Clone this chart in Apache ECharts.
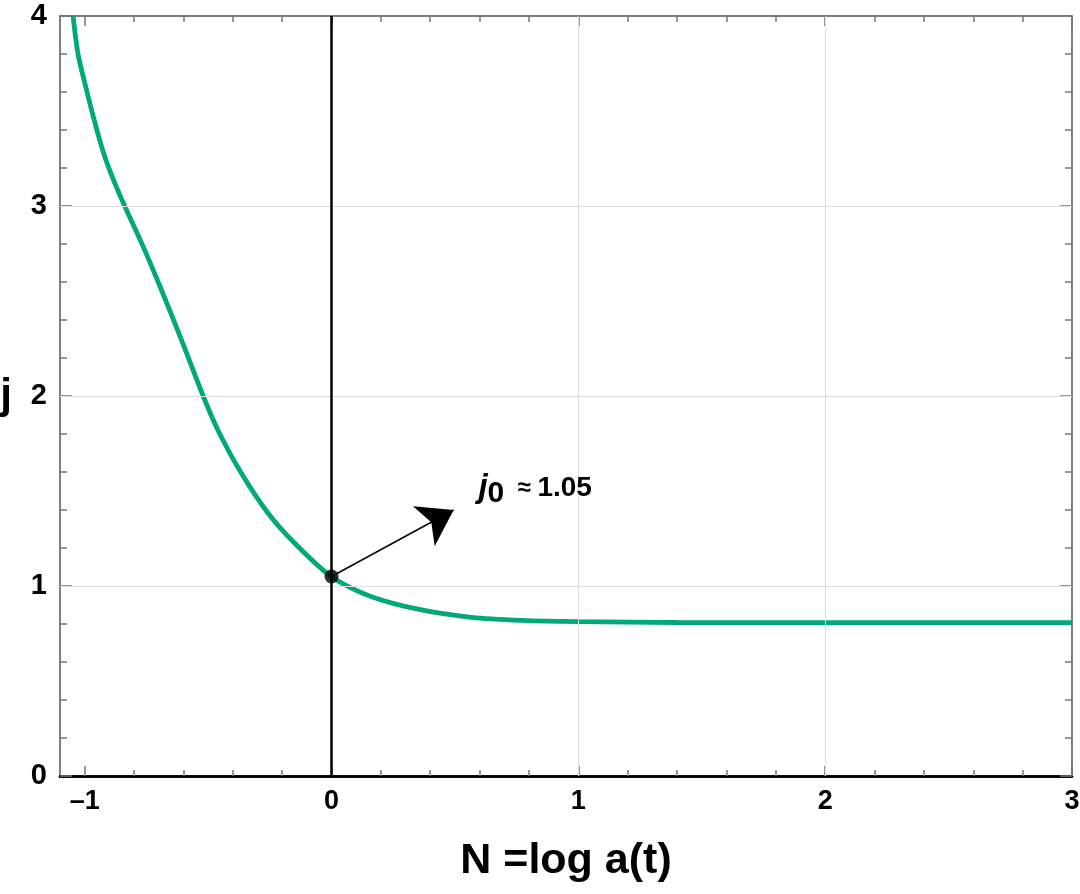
<!DOCTYPE html>
<html>
<head>
<meta charset="utf-8">
<script src="https://cdn.jsdelivr.net/npm/echarts@6/dist/echarts.min.js"></script>
<style>
html, body { margin: 0; padding: 0; background: #fff; }
#main { width: 1080px; height: 894px; }
</style>
</head>
<body>
<div id="main"></div>
<script>
// curve: N = log a(t), j
var nValues = [-1.047, -1.027, -1.0, -0.959, -0.919, -0.878, -0.838, -0.763, -0.689, -0.608, -0.52, -0.46, -0.365, -0.257, -0.149, 0, 0.162, 0.365, 0.567, 0.77, 1.0, 1.4, 2.0, 2.5, 3.0];
var jValues = [4.0, 3.80, 3.65, 3.44, 3.26, 3.12, 3.0, 2.786, 2.558, 2.295, 2.0, 1.82, 1.593, 1.383, 1.225, 1.049, 0.944, 0.874, 0.835, 0.819, 0.812, 0.808, 0.807, 0.807, 0.807];

// marked point j0, arrow end and label place (data units)
var j0Point = [0, 1.05];
var arrowEnd = [0.495, 1.40];
var j0LabelAt = [0.825, 1.515];

// ticks
var xMajor = [-1, 0, 1, 2, 3];
var xMinor = [-1, -0.8, -0.6, -0.4, -0.2, 0, 0.2, 0.4, 0.6, 0.8, 1, 1.2, 1.4, 1.6, 1.8, 2, 2.2, 2.4, 2.6, 2.8, 3];
var yMajor = [0, 1, 2, 3, 4];
var yMinor = [0, 0.2, 0.4, 0.6, 0.8, 1, 1.2, 1.4, 1.6, 1.8, 2, 2.2, 2.4, 2.6, 2.8, 3, 3.2, 3.4, 3.6, 3.8, 4];
var xGrid = [1, 2];
var yGrid = [1, 2, 3];

var font = "'Liberation Sans', Arial, sans-serif";
var frameColor = '#777';

function makeX(pos, ticks, len, main) {
    return {
        type: 'value', position: pos, min: -1.1, max: 3,
        axisLine: { show: true, onZero: false, lineStyle: { color: pos === 'bottom' ? '#000' : frameColor, width: pos === 'bottom' ? 2.5 : 1.5 } },
        axisTick: { show: true, inside: true, length: len, customValues: ticks, lineStyle: { color: frameColor, width: 1.5 } },
        axisLabel: main ? {
            show: true, customValues: xMajor, margin: 12, color: '#000',
            fontSize: 27, fontWeight: 'bold', fontFamily: font,
            formatter: function (v) { return v < 0 ? '\u2013' + Math.abs(v) : String(v); }
        } : { show: false },
        splitLine: { show: false },
        name: main ? 'N =log a(t)' : '',
        nameLocation: 'middle', nameGap: 64,
        nameTextStyle: { fontSize: 43, fontWeight: 'bold', fontFamily: font, color: '#000' }
    };
}
function makeY(pos, ticks, len, main) {
    return {
        type: 'value', position: pos, min: 0, max: 4,
        axisLine: { show: true, onZero: false, lineStyle: { color: frameColor, width: 1.5 } },
        axisTick: { show: true, inside: true, length: len, customValues: ticks, lineStyle: { color: frameColor, width: 1.5 } },
        axisLabel: main ? {
            show: true, customValues: yMajor, margin: 13, color: '#000',
            fontSize: 29, fontWeight: 'bold', fontFamily: font
        } : { show: false },
        splitLine: { show: false },
        name: main ? 'j' : '',
        nameLocation: 'middle', nameGap: 48, nameRotate: 0,
        nameTextStyle: { fontSize: 42, fontWeight: 'bold', fontFamily: font, color: '#000' }
    };
}

var curve = nValues.map(function (n, i) { return [n, jValues[i]]; });

var gridLines = [];
xGrid.forEach(function (v) { gridLines.push({ xAxis: v }); });
yGrid.forEach(function (v) { gridLines.push({ yAxis: v }); });

var myChart = echarts.init(document.getElementById('main'));
var option = {
    animation: false,
    backgroundColor: '#fff',
    grid: { left: 60, right: 8, top: 16, bottom: 118, outerBoundsMode: 'none' },
    xAxis: [
        makeX('bottom', xMajor, 10, true),
        makeX('bottom', xMinor, 6, false),
        makeX('top', xMajor, 10, false),
        makeX('top', xMinor, 6, false)
    ],
    yAxis: [
        makeY('left', yMajor, 12, true),
        makeY('left', yMinor, 7, false),
        makeY('right', yMajor, 12, false),
        makeY('right', yMinor, 7, false)
    ],
    series: [
        {
            // grid lines and the N = 0 line
            type: 'line', data: [], z: 1,
            markLine: {
                silent: true, symbol: 'none', label: { show: false },
                lineStyle: { color: '#dddddd', width: 1, type: 'solid' },
                data: gridLines.concat([{ xAxis: 0, lineStyle: { color: '#000', width: 2.5 } }])
            }
        },
        {
            type: 'line', data: curve, z: 3,
            showSymbol: false, smooth: 0.3,
            lineStyle: { color: '#00a87a', width: 4.8 }
        },
        {
            type: 'scatter', data: [j0Point], z: 5,
            symbolSize: 14, itemStyle: { color: '#000' },
            markLine: {
                silent: true, symbol: ['none', 'arrow'], symbolSize: 34,
                label: { show: false },
                lineStyle: { color: '#000', width: 1.5, type: 'solid' },
                data: [[{ coord: j0Point }, { coord: arrowEnd }]]
            },
            markPoint: {
                silent: true, symbol: 'circle', symbolSize: 0,
                data: [{
                    coord: j0LabelAt,
                    label: {
                        show: true, position: 'inside',
                        formatter: '{j|j}{s|0}{t|  \u2248 }{v|1.05}',
                        rich: {
                            j: { fontSize: 33, fontStyle: 'italic', fontWeight: 'bold', fontFamily: font, color: '#000' },
                            s: { fontSize: 30, fontWeight: 'bold', fontFamily: font, color: '#000', padding: [12, 0, 0, 0] },
                            t: { fontSize: 24, fontWeight: 'bold', fontFamily: font, color: '#000' },
                            v: { fontSize: 28, fontWeight: 'bold', fontFamily: font, color: '#000' }
                        }
                    }
                }]
            }
        }
    ]
};
myChart.setOption(option);
</script>
</body>
</html>
